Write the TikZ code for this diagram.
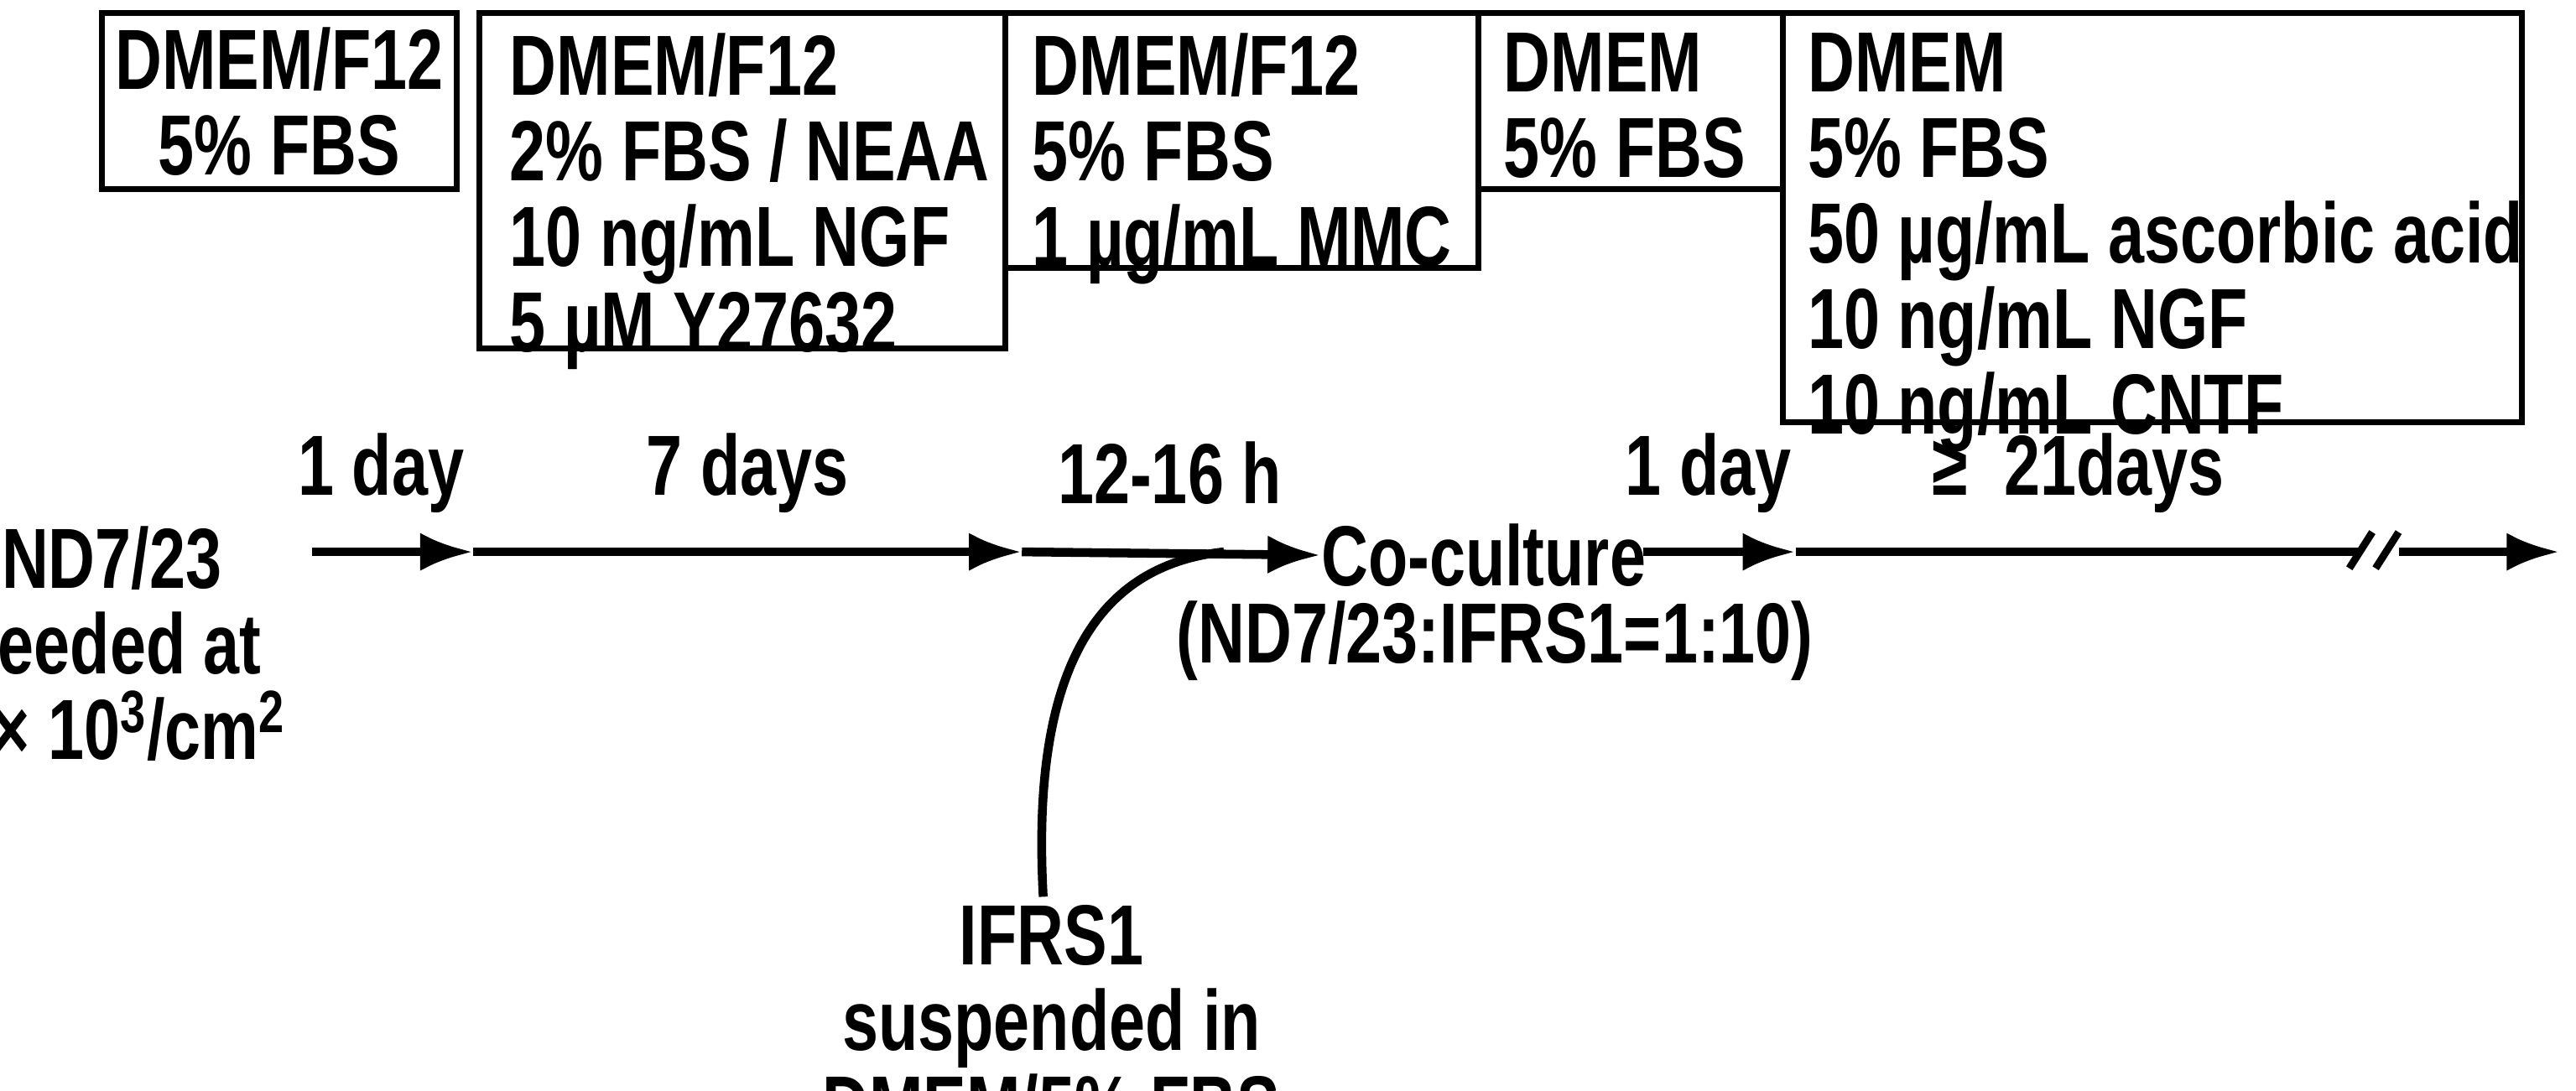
\documentclass[tikz,border=0pt]{standalone}
\usepackage{fontspec}
\setmainfont{Liberation Sans}[FakeStretch=0.76]
\usetikzlibrary{arrows.meta}
\begin{document}
\begin{tikzpicture}[x=0.0196cm,y=-0.0196cm,
  bx/.style={draw,line width=2pt},
  t/.style={font=\bfseries\fontsize{29}{29}\selectfont,inner sep=0pt,align=center},
  tl/.style={t,align=left,anchor=north west},
  ln/.style={line width=3pt},
  ar/.style={ln,-{Latex[length=18pt,width=13pt]}}]
\useasboundingbox (0,0) rectangle (1568,664);
% boxes
\draw[bx] (62,8) rectangle (278,115);
\draw[bx] (292,8) rectangle (612,212);
\draw[bx] (612,8) rectangle (900,163);
\draw[bx] (900,8) rectangle (1085,115);
\draw[bx] (1085,8) rectangle (1535,257);
\node[t] (b1) at (170,62) {DMEM/F12\\5\% FBS};
\node[tl] (b2) at (310,20) {DMEM/F12\\2\% FBS / NEAA\\10 ng/mL NGF\\5 µM Y27632};
\node[tl] (b3) at (628,20) {DMEM/F12\\5\% FBS\\1 µg/mL MMC};
\node[tl] (b4) at (915,20) {DMEM\\5\% FBS};
\node[tl] (b5) at (1100,20) {DMEM\\5\% FBS\\50 µg/mL ascorbic acid\\10 ng/mL NGF\\10 ng/mL CNTF};
% labels
\node[t] (d1) at (232,288) {1 day};
\node[t] (d2) at (455,288) {7 days};
\node[t] (d3) at (712,288) {12-16 h};
\node[t] (d4) at (1040,288) {1 day};
\node[t] (d5) at (1265,288) {≥\ \ 21days};
\node[t] (nd) at (68,392) {ND7/23\\seeded at\\3 × 10\textsuperscript{3}/cm\textsuperscript{2}};
\node[t] (co) at (903,338) {Co-culture};
\node[t] (ratio) at (910,390) {(ND7/23:IFRS1=1:10)};
\node[t] (if) at (640,622) {IFRS1\\suspended in\\DMEM/5\% FBS};
% timeline
\coordinate (s) at (190,336);
\coordinate (a1) at (288,336);
\coordinate (a2) at (622,336);
\coordinate (j) at (745,336);
\coordinate (c1) at (1000,336);
\coordinate (a4) at (1093,336);
\coordinate (br1) at (1436,336);
\coordinate (br2) at (1460,336);
\coordinate (e) at (1558,336);
\draw[ar] (s) -- (a1);
\draw[ar] (a1) -- (a2);
\draw[ar] (a2) -- (co.west);
\draw[ar] (c1) -- (a4);
\draw[ln] (a4) -- (br1);
\draw[ar] (br2) -- (e);
\draw[line width=2.5pt] (1430,346) -- (1444,324) (1446,346) -- (1460,324);
\draw[ln] (if.north) ++(-5,-5) .. controls (628,420) and (660,345) .. (j);
\end{tikzpicture}
\end{document}
